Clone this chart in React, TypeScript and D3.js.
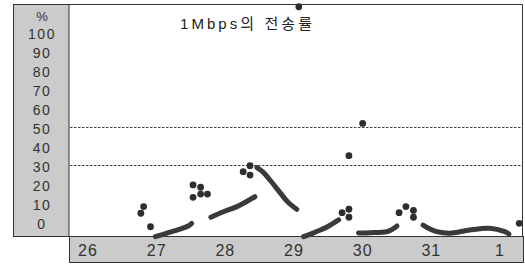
import React, { useEffect, useRef } from 'react';
import * as d3 from 'd3';

const dayLabels = ['26', '27', '28', '29', '30', '31', '1'];
const dayTicks = [26, 27, 28, 29, 30, 31, 32];
const yTickValues = [100, 90, 80, 70, 60, 50, 40, 30, 20, 10, 0];
const refLines = [50, 30];

// scattered samples [day, %]
const dots: [number, number][] = [
  [26.81, 8.1], [26.77, 4.6], [26.91, -2.5],
  [27.53, 19.5], [27.64, 18.3], [27.64, 14.7], [27.53, 13.0], [27.74, 14.7],
  [28.26, 26.5], [28.36, 29.6], [28.36, 24.7],
  [29.07, 113.3],
  [29.8, 34.9], [30.0, 51.9],
  [29.7, 4.9], [29.8, 6.7], [29.8, 2.5],
  [30.53, 4.9], [30.63, 8.1], [30.74, 6.1], [30.74, 2.5],
  [32.28, -0.7],
];

// dense runs drawn as thick strokes
const runs: [number, number][][] = [
  [[26.98, -7.7], [27.15, -5.9], [27.34, -3.8], [27.46, -2.1], [27.51, -0.7]],
  [[27.79, 2.5], [27.97, 5.4], [28.17, 8.1], [28.43, 13.3]],
  [[28.46, 28.6], [28.55, 26.3], [28.65, 22.1], [28.8, 15.3], [28.91, 10.5], [29.04, 6.7]],
  [[29.14, -7.7], [29.31, -5.3], [29.48, -2.6], [29.65, 1.1]],
  [[29.94, -5.8], [30.11, -5.6], [30.35, -5.1], [30.43, -3.9], [30.5, -2.1]],
  [[30.88, -1.6], [30.98, -3.7], [31.08, -5.1], [31.27, -5.9], [31.56, -4.2], [31.85, -3.3], [32.07, -5.1], [32.13, -6.3]],
];

const INK = '#2e2e2e';
const PANEL = '#cbcbcb';

const App: React.FC = () => {
  const svgRef = useRef<SVGSVGElement>(null);

  useEffect(() => {
    if (!svgRef.current) return;
    const svg = d3.select(svgRef.current);
    svg.selectAll('*').remove();

    const plot = { left: 69, right: 522, top: 4, bottom: 236 };

    const x = d3.scaleLinear().domain([26, 32]).range([88, 500]);
    const y = d3.scaleLinear().domain([0, 100]).range([222, 32]);

    // left label panel
    svg.append('rect')
      .attr('x', 13.5).attr('y', plot.top + 0.5)
      .attr('width', plot.left - 13.5).attr('height', plot.bottom - plot.top)
      .attr('fill', PANEL).attr('stroke', '#333');

    // bottom date band
    svg.append('rect')
      .attr('x', plot.left + 0.5).attr('y', plot.bottom + 0.5)
      .attr('width', plot.right - plot.left + 1).attr('height', 26)
      .attr('fill', PANEL).attr('stroke', '#333');

    // top + right frame of plot
    svg.append('path')
      .attr('d', `M${plot.left},${plot.top + 0.5}H${plot.right + 0.5}V${plot.bottom}`)
      .attr('fill', 'none').attr('stroke', '#333');

    // dashed reference lines
    svg.selectAll('.ref')
      .data(refLines)
      .enter()
      .append('line')
      .attr('x1', plot.left + 1).attr('x2', plot.right)
      .attr('y1', d => Math.round(y(d)) + 0.5).attr('y2', d => Math.round(y(d)) + 0.5)
      .attr('stroke', '#444').attr('stroke-dasharray', '2.5,1.5');

    // y labels
    svg.selectAll('.ylab')
      .data(yTickValues)
      .enter()
      .append('text')
      .attr('x', 42).attr('y', d => y(d) + 2)
      .attr('dy', '0.35em')
      .attr('text-anchor', 'middle')
      .attr('fill', '#333')
      .attr('letter-spacing', '1.5')
      .style('font-family', '"Liberation Sans", Arial, sans-serif')
      .style('font-size', '14px')
      .text(d => d);

    svg.append('text')
      .attr('x', 42).attr('y', y(108))
      .attr('dy', '0.35em')
      .attr('text-anchor', 'middle')
      .attr('fill', '#333')
      .style('font-family', '"Liberation Sans", Arial, sans-serif')
      .style('font-size', '13px')
      .text('%');

    // x labels
    svg.selectAll('.xlab')
      .data(dayTicks)
      .enter()
      .append('text')
      .attr('x', d => x(d)).attr('y', 250)
      .attr('dy', '0.35em')
      .attr('text-anchor', 'middle')
      .attr('fill', '#333')
      .attr('letter-spacing', '1')
      .style('font-family', '"Liberation Sans", Arial, sans-serif')
      .style('font-size', '16px')
      .text((_, i) => dayLabels[i]);

    // title
    svg.append('text')
      .attr('x', 180).attr('y', 29)
      .attr('textLength', 132)
      .attr('lengthAdjust', 'spacing')
      .attr('fill', '#222')
      .style('font-family', '"Liberation Sans", "Noto Sans CJK KR", sans-serif')
      .style('font-size', '15px')
      .text('1Mbps의 전송률');

    // thick runs
    const line = d3.line<[number, number]>()
      .x(d => x(d[0]))
      .y(d => y(d[1]))
      .curve(d3.curveCatmullRom);

    svg.selectAll('.run')
      .data(runs)
      .enter()
      .append('path')
      .attr('d', d => line(d) || '')
      .attr('fill', 'none')
      .attr('stroke', '#3a3a3a')
      .attr('stroke-width', 5)
      .attr('stroke-linecap', 'round')
      .attr('stroke-linejoin', 'round');

    // dots
    svg.selectAll('.dot')
      .data(dots)
      .enter()
      .append('circle')
      .attr('cx', d => x(d[0]))
      .attr('cy', d => y(d[1]))
      .attr('r', 3.4)
      .attr('fill', INK);
  }, []);

  return (
    <div style={{ position: 'absolute', left: 0, top: 0, width: 525, height: 264, background: '#fff' }}>
      <svg ref={svgRef} width={525} height={264} style={{ display: 'block' }} />
    </div>
  );
};

export default App;
